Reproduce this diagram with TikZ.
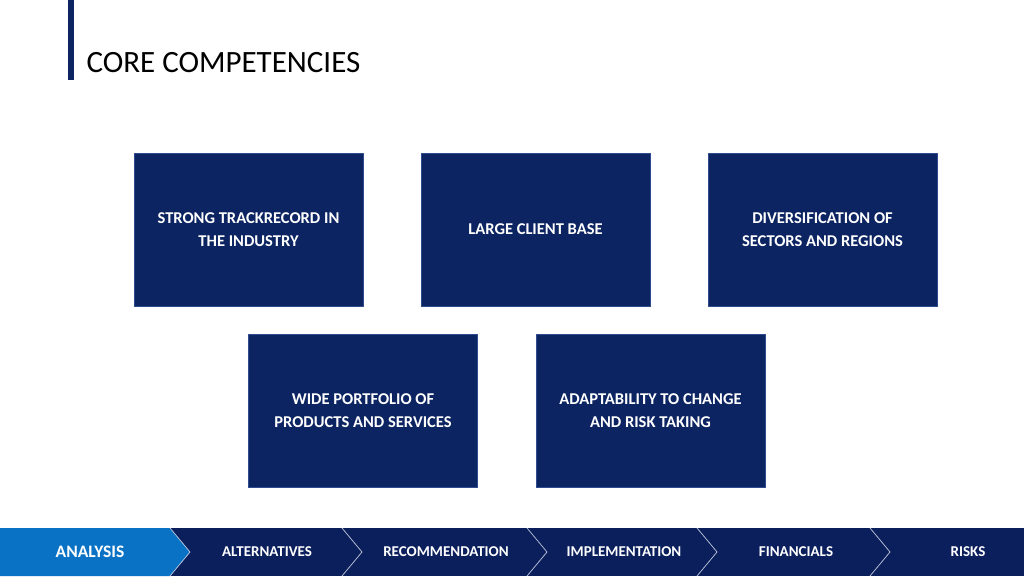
\documentclass[tikz,border=0pt]{standalone}
\usepackage{fontspec}
\setmainfont{Carlito}
\definecolor{navy}{HTML}{0C2461}
\definecolor{edge}{HTML}{2E4C8F}
\definecolor{lblue}{HTML}{0A72C4}
\definecolor{bar}{HTML}{0B1F5C}
\begin{document}
\begin{tikzpicture}[x=1pt,y=-1pt,
  card/.style={draw=edge,line width=0.8pt,fill=navy,text=white,font=\bfseries\fontsize{16.5}{23}\selectfont,align=center,minimum width=229pt,minimum height=153pt,inner sep=0},
  steplabel/.style={text=white,font=\bfseries\fontsize{15}{17}\selectfont}]
\useasboundingbox (0,0) rectangle (1024,576);
\fill[white] (0,0) rectangle (1024,576);
\fill[navy] (68,0) rectangle (74,80);
\node[anchor=west,font=\fontsize{31}{36}\selectfont] (title) at (83,63) {CORE COMPETENCIES};
\node[card] (c1) at (248.5,229.5) {STRONG TRACKRECORD IN\\THE INDUSTRY};
\node[card] (c2) at (535.5,229.5) {LARGE CLIENT BASE};
\node[card] (c3) at (822.5,229.5) {DIVERSIFICATION OF\\SECTORS AND REGIONS};
\node[card] (c4) at (363,410.5) {WIDE PORTFOLIO OF\\PRODUCTS AND SERVICES};
\node[card] (c5) at (650.5,410.5) {ADAPTABILITY TO CHANGE\\AND RISK TAKING};
\fill[bar] (0,528) rectangle (1024,576);
\fill[lblue] (0,528) -- (170,528) -- (190,552) -- (170,576) -- (0,576) -- cycle;
\foreach \x in {342,527,697,870}{
  \draw[white!70!edge,line width=0.7pt] (\x,528) -- (\x+20,552) -- (\x,576);}
\draw[white!70!edge,line width=0.7pt] (170,528) -- (190,552) -- (170,576);
\node[steplabel,font=\bfseries\fontsize{17.5}{19}\selectfont] (s1) at (90,552) {ANALYSIS};
\node[steplabel] (s2) at (267,552) {ALTERNATIVES};
\node[steplabel] (s3) at (446,552) {RECOMMENDATION};
\node[steplabel] (s4) at (624,552) {IMPLEMENTATION};
\node[steplabel] (s5) at (796,552) {FINANCIALS};
\node[steplabel] (s6) at (968,552) {RISKS};
\end{tikzpicture}
\end{document}
